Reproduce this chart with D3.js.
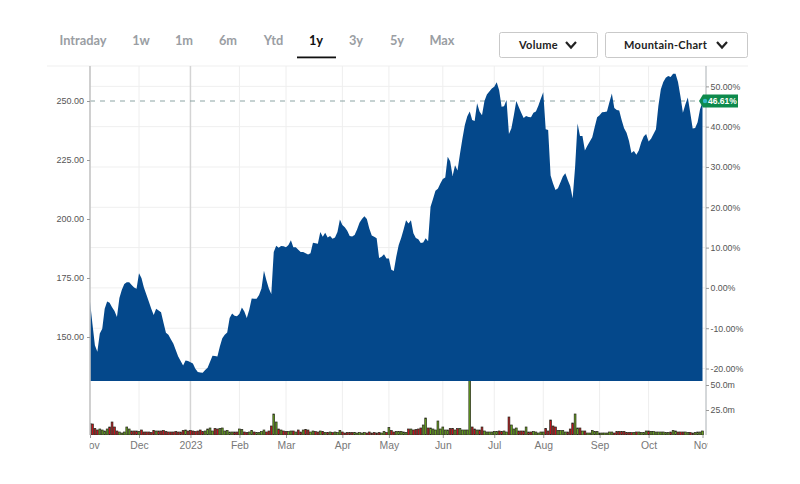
<!DOCTYPE html>
<html>
    <head>
        <meta charset="utf-8">
        <title>Mountain Chart</title>
        <script src="https://d3js.org/d3.v7.min.js"></script>
        <style>
            body { margin: 0; background: #fff; }
            svg { display: block; }
            .axis path { display: none; }
            .axis line { stroke: #999; }
            .axis text { font-family: "Liberation Sans", sans-serif; fill: #555; }
        </style>
    </head>
    <body>
        <script>
            // one close per trading day, Nov 2022 to Nov 2023
            const closes = [
                165, 155.5, 146.5, 143.8, 151.5, 153.5, 162, 165, 164.5, 162.6,
                161, 158.5, 166.5, 170, 172.5, 173.2, 173.2, 172, 171, 170.4,
                177, 175, 171, 168, 165, 162, 159.3, 162, 161.2, 160.5,
                156, 151.8, 151, 149, 147.2, 144.5, 141.7, 139.8, 137.9, 140,
                139.8, 139.3, 138.8, 136.5, 135.2, 135, 134.9, 136, 137, 139.5,
                142.1, 142, 141.7, 146, 149.5, 151, 151.9, 158, 160, 159,
                158.8, 159.8, 162.5, 160.8, 158, 161.5, 166.3, 166.2, 166.2, 167.8,
                170.6, 178.1, 174, 170.5, 168.2, 186, 188.7, 187.8, 188.6, 188.5,
                188, 189, 191, 188, 188, 187, 186, 186, 185.5, 185,
                185.5, 189.9, 189.7, 189.5, 194.5, 192.5, 194.2, 192.2, 192.8, 191.6,
                192.2, 194.5, 199.8, 197.5, 196.5, 195, 192.8, 192.6, 193.2, 195.6,
                198.4, 200, 201.2, 200, 196, 193, 192.5, 191.8, 183.5, 184,
                185.1, 183.3, 183.3, 178.5, 178, 184, 189, 192, 195.5, 199.5,
                198.1, 199.5, 194, 192, 191.4, 189.8, 190, 191.8, 190.6, 205.2,
                208.5, 212, 212.8, 215, 217, 217.6, 226.4, 224.5, 218.2, 222.8,
                220.5, 227.5, 234, 239.8, 243.5, 245.5, 242, 241.5, 249, 245.5,
                244, 250, 252.8, 254, 255.3, 256, 257.9, 254.6, 247.6, 247.8,
                250.4, 236, 238.5, 244, 250, 247.5, 245, 242.8, 243.6, 243.2,
                243.1, 245, 245.5, 248, 251, 253.7, 238, 237.7, 218.4, 215,
                212.3, 213, 215.5, 218, 219.4, 216.5, 214, 208.8, 222, 240.5,
                235.2, 235.2, 229, 231, 232.8, 234.6, 239, 243.1, 244, 245.2,
                245.3, 245.5, 249.5, 253.2, 247, 246.2, 246, 242, 238.5, 236.5,
                233, 228, 228.8, 227.2, 229, 232.5, 235, 236, 232.8, 234,
                236, 238, 248, 255, 258, 259.8, 260.6, 260.2, 261.5, 261.5,
                258, 252, 245, 248.5, 251.5, 245, 238.4, 238.6, 241, 246.5,
                249.5
            ]

            // volume in millions, same days as closes
            const volumes = [
                11.5, 11, 6.5, 5, 6, 5, 4, 6, 8, 13,
                8, 4, 3, 2, 3, 8, 6, 4, 4, 4,
                3.5, 5, 3, 3, 3, 2.5, 4.5, 4, 4, 4,
                4.5, 3.5, 3, 3, 3, 3.5, 3, 3, 4.5, 5,
                4, 4.5, 4, 3.5, 4, 5, 3.5, 4, 6, 7,
                4, 6.5, 6, 6.5, 7, 4, 4.5, 3, 3, 3,
                3, 6, 5.5, 3, 2.5, 3, 4.5, 3, 2.5, 2.5,
                3.5, 5, 3, 4, 9, 21, 13, 6, 5, 4,
                3.5, 3.5, 4, 4, 3, 5, 3, 5, 5.5, 5,
                3, 4, 3.5, 3, 4, 3.5, 2.5, 2.5, 3, 2.5,
                3, 2.5, 4.5, 3, 2, 2.5, 2.5, 2.5, 2.5, 2,
                2.5, 2, 2.5, 2, 3, 2, 2.5, 2, 2.5, 2,
                3.5, 2.5, 7.5, 4.5, 3, 3.5, 3.5, 3.5, 3, 2.5,
                6, 6, 5, 5.5, 6, 7, 10, 17, 7, 7,
                6, 5, 14, 6, 8, 5, 5, 6.5, 6.5, 5,
                6.5, 6.5, 5, 5, 5, 60, 8, 6, 5, 5,
                8, 4, 3, 3, 3, 3.5, 3.5, 4, 3.5, 4,
                3, 18, 10, 6, 7, 4, 4, 4, 8, 3,
                3, 3.5, 3, 2, 3, 3, 6.5, 4, 15, 9,
                8, 4.5, 4.5, 4.5, 3, 3, 6, 12, 21, 7,
                7, 4, 4, 2, 2, 4.5, 3.5, 3.5, 2, 2,
                2, 2, 3, 3, 2, 3.5, 3.5, 3.5, 3.5, 2.5,
                2.5, 2.5, 2.5, 3, 3, 2.5, 2.5, 4, 4, 3.5,
                3.5, 3, 3, 3, 3, 2.5, 2.5, 3, 4.5, 4,
                3, 3, 3, 3, 2.5, 2.5, 2, 2.5, 3, 3,
                4
            ]

            const monthDays = [0, 20, 41, 61, 80, 103, 122, 144, 165, 185, 208, 228, 250]
            const monthLabels = ['Nov', 'Dec', '2023', 'Feb', 'Mar', 'Apr', 'May', 'Jun', 'Jul', 'Aug', 'Sep', 'Oct', 'Nov']
            const priceTicks = [150, 175, 200, 225, 250]
            const percentTicks = [-20, -10, 0, 10, 20, 30, 40, 50]
            const volumeTicks = [25, 50]
            const tabLabels = ['Intraday', '1w', '1m', '6m', 'Ytd', '1y', '3y', '5y', 'Max']
            const tabCenters = [83, 141, 184, 228, 273.5, 316, 356, 397, 442]
            const activeTab = '1y'
            const basePrice = 170.8
            const lastPrice = 250
            const lastChange = '46.61%'

            const svg = d3.select('body').append('svg')
                .attr('width', 800)
                .attr('height', 484)

            const plot = {
                left: 90,
                right: 705,
                top: 66,
                priceBottom: 381,
                volumeBottom: 435
            }

            const x = d3.scaleLinear().domain([0, 250]).range([plot.left, plot.left + 250 * 2.45])
            const yPrice = d3.scaleLinear().domain([150, 250]).range([337, 101])
            const yPercent = d3.scaleLinear()
                .domain([-20, 50])
                .range([yPrice(basePrice * 0.8), yPrice(basePrice * 1.5)])
            const yVolume = d3.scaleLinear().domain([0, 50]).range([plot.volumeBottom, 385])

            const defs = svg.append('defs')
            defs.append('clipPath').attr('id', 'price-clip').append('rect')
                .attr('x', plot.left).attr('y', plot.top)
                .attr('width', plot.right - plot.left + 1).attr('height', plot.priceBottom - plot.top)
            defs.append('clipPath').attr('id', 'volume-clip').append('rect')
                .attr('x', plot.left).attr('y', plot.priceBottom)
                .attr('width', plot.right - plot.left + 2).attr('height', plot.volumeBottom - plot.priceBottom)
            defs.append('clipPath').attr('id', 'label-clip').append('rect')
                .attr('x', 89.5).attr('y', 0)
                .attr('width', 618).attr('height', 30)

            // tabs
            svg.append('g').selectAll('text')
                .data(tabLabels).enter()
                .append('text')
                    .attr('x', (d, i) => tabCenters[i])
                    .attr('y', 45)
                    .attr('text-anchor', 'middle')
                    .attr('font-family', 'Lato, sans-serif')
                    .attr('font-size', 12.8)
                    .attr('font-weight', 700)
                    .attr('fill', d => d === activeTab ? '#111' : '#9a9ea3')
                    .text(d => d)

            svg.append('rect')
                .attr('x', 297).attr('y', 56.5)
                .attr('width', 39).attr('height', 1.8)
                .attr('fill', '#111')

            // drop-down buttons
            const addButton = (bx, bw, label, textX, arrowX) => {
                svg.append('rect')
                    .attr('x', bx + 0.5).attr('y', 32.5)
                    .attr('width', bw).attr('height', 25)
                    .attr('rx', 2)
                    .attr('fill', '#fff')
                    .attr('stroke', '#c9c9c9')
                svg.append('text')
                    .attr('x', textX).attr('y', 49)
                    .attr('font-family', 'Lato, sans-serif')
                    .attr('font-size', 11)
                    .attr('font-weight', 700)
                    .attr('letter-spacing', 0.3)
                    .attr('fill', '#222')
                    .text(label)
                svg.append('path')
                    .attr('d', d3.line()([[arrowX - 5, 42], [arrowX, 47.5], [arrowX + 5, 42]]))
                    .attr('fill', 'none')
                    .attr('stroke', '#222')
                    .attr('stroke-width', 2.2)
            }
            addButton(499, 98, 'Volume', 519, 571)
            addButton(605, 142, 'Mountain-Chart', 624, 722)

            // grid
            svg.append('line')
                .attr('x1', 47).attr('x2', 748)
                .attr('y1', plot.top).attr('y2', plot.top)
                .attr('stroke', '#efefef')

            svg.append('g').selectAll('line')
                .data(percentTicks).enter()
                .append('line')
                    .attr('x1', plot.left).attr('x2', plot.right)
                    .attr('y1', d => yPercent(d)).attr('y2', d => yPercent(d))
                    .attr('stroke', '#efefef')

            svg.append('g').selectAll('line')
                .data(monthDays.slice(1, -1)).enter()
                .append('line')
                    .attr('x1', d => x(d)).attr('x2', d => x(d))
                    .attr('y1', plot.top).attr('y2', plot.volumeBottom)
                    .attr('stroke', (d, i) => monthLabels[i + 1] === '2023' ? '#d4d4d4' : '#eeeeee')
                    .attr('stroke-width', (d, i) => monthLabels[i + 1] === '2023' ? 1.5 : 1)

            // last price level, sits behind the mountain
            svg.append('line')
                .attr('x1', plot.left).attr('x2', plot.right)
                .attr('y1', yPrice(lastPrice)).attr('y2', yPrice(lastPrice))
                .attr('stroke', '#7f9a9a')
                .attr('stroke-width', 0.9)
                .attr('stroke-dasharray', '5 5')

            const area = d3.area()
                .x((d, i) => x(i))
                .y0(plot.priceBottom)
                .y1(d => yPrice(d))

            svg.append('path')
                .datum(closes)
                .attr('clip-path', 'url(#price-clip)')
                .attr('fill', '#04488b')
                .attr('d', area)

            // volume bars, green on an up day
            svg.append('g')
                .attr('clip-path', 'url(#volume-clip)')
                .selectAll('rect')
                .data(volumes).enter()
                .append('rect')
                    .attr('x', (d, i) => x(i) - 0.9)
                    .attr('y', d => yVolume(d))
                    .attr('width', 1.8)
                    .attr('height', d => yVolume(0) - yVolume(d))
                    .attr('fill', (d, i) => i > 0 && closes[i] >= closes[i - 1] ? '#66a51c' : '#c5121c')
                    .attr('stroke', '#2a2a1e')
                    .attr('stroke-width', 0.7)

            // axis frame
            svg.append('line')
                .attr('x1', plot.left).attr('x2', plot.left)
                .attr('y1', plot.top).attr('y2', plot.volumeBottom)
                .attr('stroke', '#c4c4c4')
                .attr('stroke-width', 1.6)
            svg.append('line')
                .attr('x1', plot.right + 1).attr('x2', plot.right + 1)
                .attr('y1', plot.top).attr('y2', plot.volumeBottom)
                .attr('stroke', '#aab0b4')

            const priceAxis = svg.append('g')
                .attr('class', 'axis')
                .attr('transform', `translate(${plot.left}, 0)`)
                .call(d3.axisLeft(yPrice).tickValues(priceTicks).tickFormat(d => d.toFixed(2)).tickSize(3).tickPadding(3))
            priceAxis.selectAll('text').attr('font-size', 9)

            const percentAxis = svg.append('g')
                .attr('class', 'axis')
                .attr('transform', `translate(${plot.right + 1}, 0)`)
                .call(d3.axisRight(yPercent).tickValues(percentTicks).tickFormat(d => d.toFixed(2) + '%').tickSize(3).tickPadding(1.5))
            percentAxis.selectAll('text').attr('font-size', 8.8)

            const volumeAxis = svg.append('g')
                .attr('class', 'axis')
                .attr('transform', `translate(${plot.right + 1}, 0)`)
                .call(d3.axisRight(yVolume).tickValues(volumeTicks).tickFormat(d => d.toFixed(1) + 'm').tickSize(3).tickPadding(1.5))
            volumeAxis.selectAll('text').attr('font-size', 8.8)

            const monthAxis = svg.append('g')
                .attr('transform', `translate(0, ${plot.volumeBottom})`)
                .attr('clip-path', 'url(#label-clip)')
                .append('g')
                .attr('class', 'axis')
                .call(d3.axisBottom(x).tickValues(monthDays).tickFormat((d, i) => monthLabels[i]).tickSize(3).tickPadding(4))
            monthAxis.selectAll('text').attr('font-size', 10.4).style('fill', '#777')

            // last value badge
            const badgeY = yPrice(lastPrice)
            svg.append('path')
                .attr('d', d3.line()([
                    [699, badgeY], [703, badgeY - 6.5], [738, badgeY - 6.5],
                    [738, badgeY + 6.5], [703, badgeY + 6.5]
                ]) + 'Z')
                .attr('fill', '#0d8a4c')
            svg.append('circle')
                .attr('cx', 705).attr('cy', badgeY)
                .attr('r', 2.2)
                .attr('fill', '#35b6c8')
            svg.append('text')
                .attr('x', 708).attr('y', badgeY + 3)
                .attr('font-family', '"Liberation Sans", sans-serif')
                .attr('font-size', 8.5)
                .attr('font-weight', 700)
                .attr('fill', '#fff')
                .text(lastChange)
        </script>
    </body>
</html>
